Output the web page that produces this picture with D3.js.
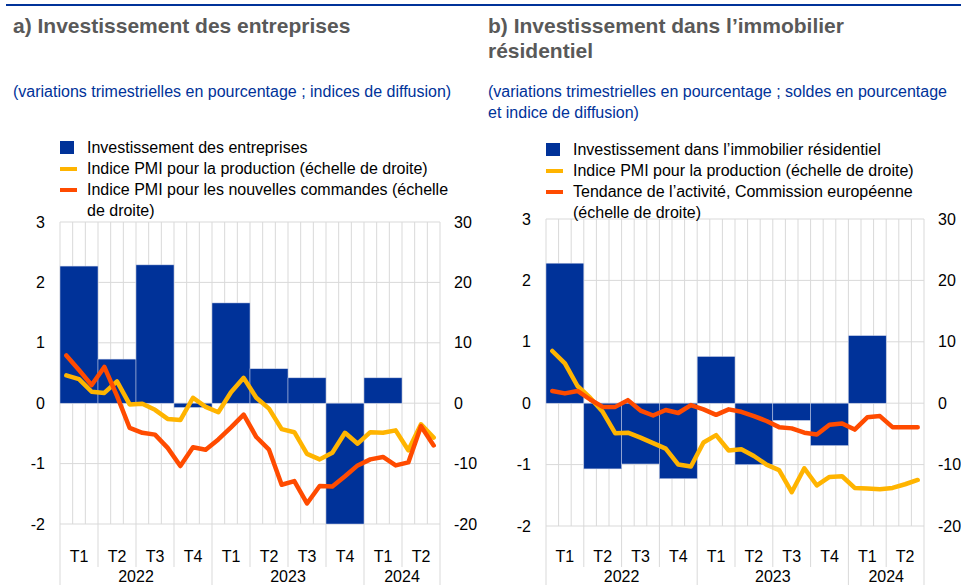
<!DOCTYPE html>
<html>
<head>
<meta charset="utf-8">
<script src="https://cdn.jsdelivr.net/npm/d3@7"></script>
<style>
  body { margin: 0; background: #fff; }
  svg text { font-family: Arial, "Liberation Sans", sans-serif; }
</style>
</head>
<body>
<svg width="961" height="585"></svg>
<script>
// ============ DATA ============
const quarterLabels = ["T1", "T2", "T3", "T4", "T1", "T2", "T3", "T4", "T1", "T2"];
const quarterYears = ["2022", "2022", "2022", "2022", "2023", "2023", "2023", "2023", "2024", "2024"];

// a) business investment (left scale, quarterly), PMI series (right scale, monthly Jan 2022 - Jun 2024)
const bizInvest = [2.27, 0.73, 2.29, -0.07, 1.66, 0.57, 0.42, -2.0, 0.42, null];
const pmiProdA = [4.6, 4.0, 1.9, 1.7, 3.6, -0.2, -0.1, -1.1, -2.6, -2.8, 0.9, -0.6, -1.5, 1.8, 4.2,
                  0.9, -0.9, -4.3, -4.8, -8.4, -9.3, -8.2, -4.9, -6.7, -4.8, -4.9, -4.5, -7.8, -3.5, -5.7];
const pmiOrders = [7.9, 5.5, 3.0, 6.0, 1.2, -4.1, -4.9, -5.2, -7.4, -10.4, -7.3, -7.7, -6.0, -4.0, -1.9,
                   -5.6, -7.7, -13.5, -12.9, -16.6, -13.7, -13.8, -12.1, -10.3, -9.3, -8.9, -10.3, -9.8, -3.8, -7.0];

// b) residential investment, PMI output, EC activity trend
const resInvest = [2.28, -1.07, -0.99, -1.23, 0.76, -1.0, -0.28, -0.69, 1.1, null];
const pmiProdB = [8.5, 6.5, 2.8, 0.9, -1.4, -4.9, -4.8, -5.6, -6.5, -7.4, -10.0, -10.3, -6.4, -5.2, -7.7,
                  -7.5, -8.6, -10.0, -10.9, -14.5, -10.6, -13.4, -12.0, -11.9, -13.8, -13.9, -14.0, -13.8, -13.2, -12.5];
const ecTrend = [2.0, 1.6, 2.0, 0.6, -0.6, -0.6, 0.5, -1.2, -2.0, -1.1, -1.6, -0.3, -1.0, -1.9, -1.0,
                 -1.4, -2.1, -2.9, -3.9, -4.1, -4.8, -5.1, -3.5, -3.3, -4.3, -2.3, -2.1, -3.9, -3.9, -3.9];

const leftTicks = [-2, -1, 0, 1, 2, 3];
const rightTicks = [-20, -10, 0, 10, 20, 30];

const legendA = [
  ["Investissement des entreprises"],
  ["Indice PMI pour la production (échelle de droite)"],
  ["Indice PMI pour les nouvelles commandes (échelle", "de droite)"]
];
const legendB = [
  ["Investissement dans l\u2019immobilier résidentiel"],
  ["Indice PMI pour la production (échelle de droite)"],
  ["Tendance de l\u2019activité, Commission européenne", "(échelle de droite)"]
];

const BLUE = "#003299", YELLOW = "#ffb400", RED = "#ff4b00", GRID = "#d9d9d9";
const FS = "16px";

const svg = d3.select("svg");

// top rule
svg.append("line")
  .attr("x1", 6).attr("x2", 961).attr("y1", 5).attr("y2", 5)
  .attr("stroke", BLUE).attr("stroke-width", 2);

// ============ PANEL ============
function drawPanel(p) {
  const g = svg.append("g");

  // titles
  const title = g.append("text")
    .attr("x", p.tx).attr("y", 33)
    .style("font-size", "21px").style("font-weight", "bold").attr("fill", "#595959");
  p.title.forEach((t, i) => title.append("tspan").attr("x", p.tx).attr("dy", i ? 25 : 0).text(t));

  const sub = g.append("text")
    .attr("x", p.tx).attr("y", 97)
    .style("font-size", FS).attr("fill", BLUE);
  p.subtitle.forEach((t, i) => sub.append("tspan").attr("x", p.tx).attr("dy", i ? 21 : 0).text(t));

  const xm = d3.scaleBand().domain(d3.range(30)).range([p.x0, p.x1]);
  const xq = d3.scaleBand().domain(d3.range(10)).range([p.x0, p.x1]);
  const yL = d3.scaleLinear().domain([-2, 3]).range([p.yb, p.yt]);
  const yR = d3.scaleLinear().domain([-20, 30]).range([p.yb, p.yt]);

  // vertical month grid
  g.append("g").selectAll("line")
    .data(d3.range(31))
    .join("line")
    .attr("x1", i => p.x0 + i * xm.step()).attr("x2", i => p.x0 + i * xm.step())
    .attr("y1", p.yt).attr("y2", p.yb)
    .attr("stroke", GRID).attr("stroke-width", 1);

  // horizontal grid
  g.append("g").selectAll("line")
    .data(leftTicks)
    .join("line")
    .attr("x1", p.x0).attr("x2", p.x1)
    .attr("y1", d => yL(d)).attr("y2", d => yL(d))
    .attr("stroke", GRID).attr("stroke-width", 1);

  // quarter / year separators below the plot
  g.append("g").selectAll("line")
    .data(d3.range(11))
    .join("line")
    .attr("x1", i => p.x0 + i * xq.step()).attr("x2", i => p.x0 + i * xq.step())
    .attr("y1", p.yb)
    .attr("y2", i => (i === 0 || i === 10 || quarterYears[i] !== quarterYears[i - 1]) ? 585 : 567)
    .attr("stroke", GRID).attr("stroke-width", 1);

  // bars
  g.append("g").selectAll("rect")
    .data(p.bars.map((v, i) => ({ v, i })).filter(d => d.v !== null))
    .join("rect")
    .attr("x", d => xq(d.i))
    .attr("width", xq.bandwidth())
    .attr("y", d => yL(Math.max(0, d.v)))
    .attr("height", d => Math.abs(yL(d.v) - yL(0)))
    .attr("fill", BLUE)
    .attr("stroke", "#c8d0e8").attr("stroke-width", 0.5);

  // lines
  const line = d3.line()
    .x((d, i) => xm(i) + xm.bandwidth() / 2)
    .y(d => yR(d));
  [[p.yellow, YELLOW], [p.red, RED]].forEach(([vals, col]) => {
    g.append("path")
      .datum(vals)
      .attr("d", line)
      .attr("fill", "none")
      .attr("stroke", col)
      .attr("stroke-width", 4.5)
      .attr("stroke-linejoin", "round")
      .attr("stroke-linecap", "round");
  });

  // axes
  const fmt = d => String(d);
  const axL = g.append("g")
    .attr("transform", `translate(${p.x0},0)`)
    .call(d3.axisLeft(yL).tickValues(leftTicks).tickSize(0).tickPadding(15).tickFormat(fmt));
  const axR = g.append("g")
    .attr("transform", `translate(${p.x1},0)`)
    .call(d3.axisRight(yR).tickValues(rightTicks).tickSize(0).tickPadding(14).tickFormat(fmt));
  [axL, axR].forEach(a => {
    a.select(".domain").remove();
    a.selectAll("text").style("font-size", FS).style("font-family", "Arial, 'Liberation Sans', sans-serif").attr("fill", "#000");
  });

  // quarter labels
  g.append("g").selectAll("text")
    .data(quarterLabels)
    .join("text")
    .attr("x", (d, i) => xq(i) + xq.bandwidth() / 2)
    .attr("y", 562)
    .attr("text-anchor", "middle")
    .style("font-size", FS)
    .text(d => d);

  // year labels
  const yearGroups = d3.groups(quarterYears.map((y, i) => ({ y, i })), d => d.y);
  g.append("g").selectAll("text")
    .data(yearGroups)
    .join("text")
    .attr("x", ([, arr]) => (xq(arr[0].i) + xq(arr[arr.length - 1].i) + xq.bandwidth()) / 2)
    .attr("y", 582)
    .attr("text-anchor", "middle")
    .style("font-size", FS)
    .text(([y]) => y);

  // legend
  const lg = g.append("g").attr("transform", `translate(${p.lx},${p.ly})`);
  let row = 0;
  p.legend.forEach((lines, k) => {
    const yy = row * 21;
    if (k === 0) {
      lg.append("rect").attr("x", 0).attr("y", yy - 12).attr("width", 14).attr("height", 13).attr("fill", BLUE);
    } else {
      lg.append("rect").attr("x", 0).attr("y", yy - 7).attr("width", 17).attr("height", 4)
        .attr("fill", k === 1 ? YELLOW : RED);
    }
    const t = lg.append("text").attr("x", 27).attr("y", yy).style("font-size", FS).attr("fill", "#000");
    lines.forEach((s, j) => t.append("tspan").attr("x", 27).attr("dy", j ? 21 : 0).text(s));
    row += lines.length;
  });
}

drawPanel({
  tx: 13, title: ["a) Investissement des entreprises"],
  subtitle: ["(variations trimestrielles en pourcentage ; indices de diffusion)"],
  x0: 60, x1: 440, yt: 222, yb: 524,
  bars: bizInvest, yellow: pmiProdA, red: pmiOrders,
  lx: 60, ly: 153, legend: legendA
});

drawPanel({
  tx: 488, title: ["b) Investissement dans l\u2019immobilier", "résidentiel"],
  subtitle: ["(variations trimestrielles en pourcentage ; soldes en pourcentage", "et indice de diffusion)"],
  x0: 546, x1: 924, yt: 219, yb: 526,
  bars: resInvest, yellow: pmiProdB, red: ecTrend,
  lx: 546, ly: 155, legend: legendB
});
</script>
</body>
</html>
